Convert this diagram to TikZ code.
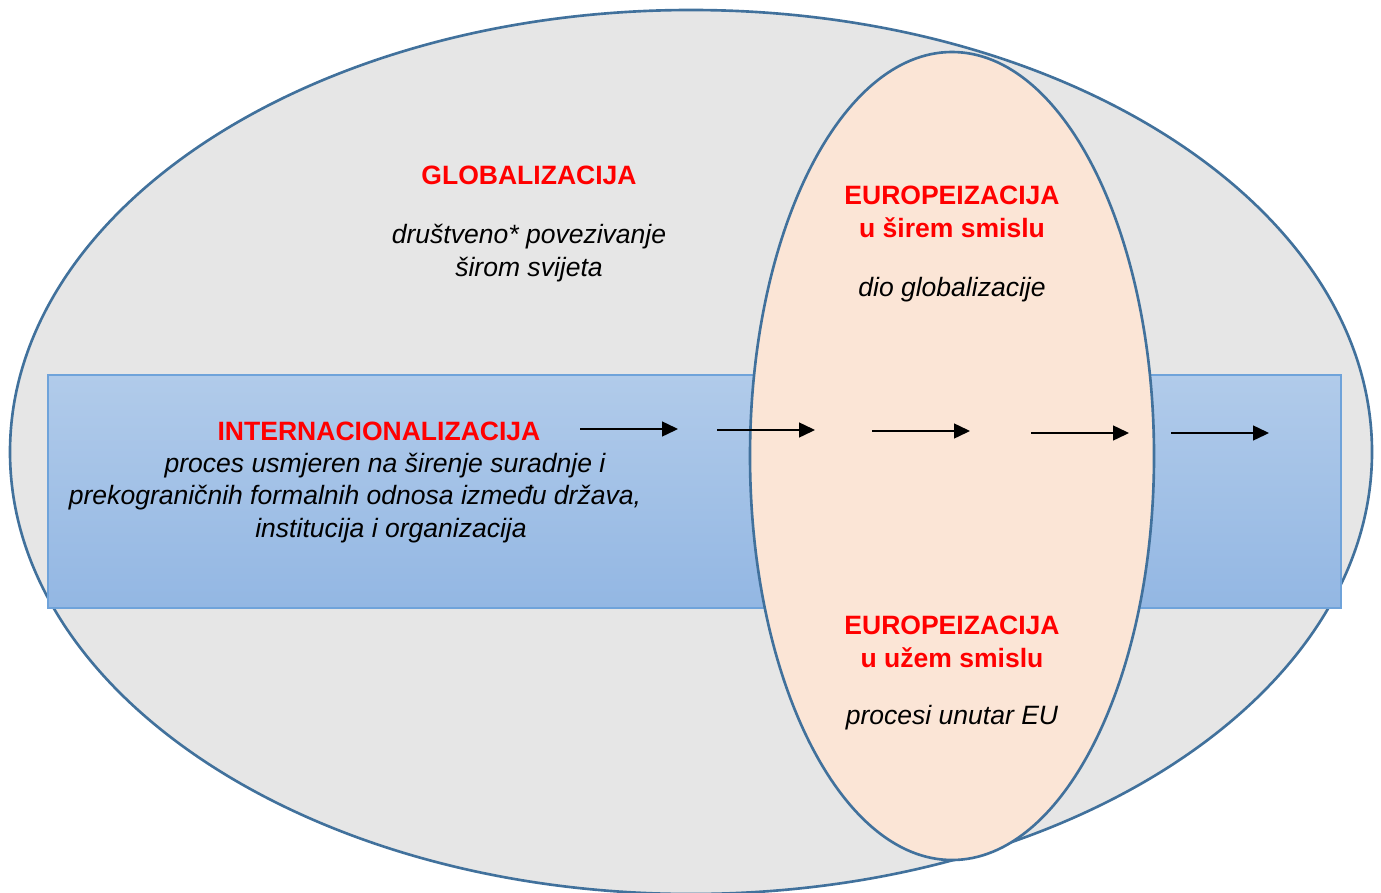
\documentclass[tikz,border=0pt]{standalone}
\usepackage{fontspec}
\setmainfont{Liberation Sans}
\usepackage{xcolor}
\usetikzlibrary{arrows.meta}
\definecolor{globgray}{HTML}{E6E6E6}
\definecolor{rimblue}{HTML}{41719C}
\definecolor{eupeach}{HTML}{FBE5D6}
\definecolor{bandtop}{HTML}{B1CBEA}
\definecolor{bandbot}{HTML}{93B7E3}
\definecolor{bandrim}{HTML}{6FA3DA}
\definecolor{titlered}{HTML}{FF0000}

\begin{document}
\begin{tikzpicture}[x=0.02cm,y=-0.02cm,
	titel/.style={inner sep=0pt,font=\fontsize{15.1}{18.5}\selectfont\bfseries,text=titlered,align=center},
	opis/.style={inner sep=0pt,font=\fontsize{15.1}{18.5}\selectfont\itshape,align=center},
	tok/.style={-{Triangle[length=0.32cm,width=0.3cm]},line width=0.8pt,black}]
		\useasboundingbox (0,0) rectangle (1381,892);
		% globalizacija
		\draw[line width=1.5pt,rimblue,fill=globgray] (691,452) ellipse [x radius=681, y radius=442];
		% internacionalizacija
		\shade[top color=bandtop,bottom color=bandbot] (48,375) rectangle (1341,608);
		\draw[bandrim,line width=0.7pt] (48,375) rectangle (1341,608);
		% europeizacija
		\draw[line width=1.5pt,rimblue,fill=eupeach] (952,456) ellipse [x radius=202, y radius=404];
		% strelice
		\foreach \xa/\xb/\yy [count=\i] in {580/678/429,717/815/430,872/970/431,1031/1129/433,1171/1269/433}{
			\coordinate (s\i) at (\xa,\yy);
			\coordinate (e\i) at (\xb,\yy);
			\draw[tok] (s\i) -- (e\i);
		}
		\node[titel] (glob) at (529,175) {GLOBALIZACIJA};
		\node[opis] (globopis) at (529,253) {društveno* povezivanje\\širom svijeta};
		\node[titel] (eusiri) at (952,212) {EUROPEIZACIJA\\u širem smislu};
		\node[opis] (eusiriopis) at (952,290) {dio globalizacije};
		\node[titel] (intern) at (379,431) {INTERNACIONALIZACIJA};
		\node[opis] (internopis) at (355,498) {\hspace*{1.2cm}proces usmjeren na širenje suradnje i\\prekograničnih formalnih odnosa između država,\\\hspace*{1.44cm}institucija i organizacija};
		\node[titel] (euuzi) at (952,642) {EUROPEIZACIJA\\u užem smislu};
		\node[opis] (euuziopis) at (952,718) {procesi unutar EU};
	\end{tikzpicture}
\end{document}
